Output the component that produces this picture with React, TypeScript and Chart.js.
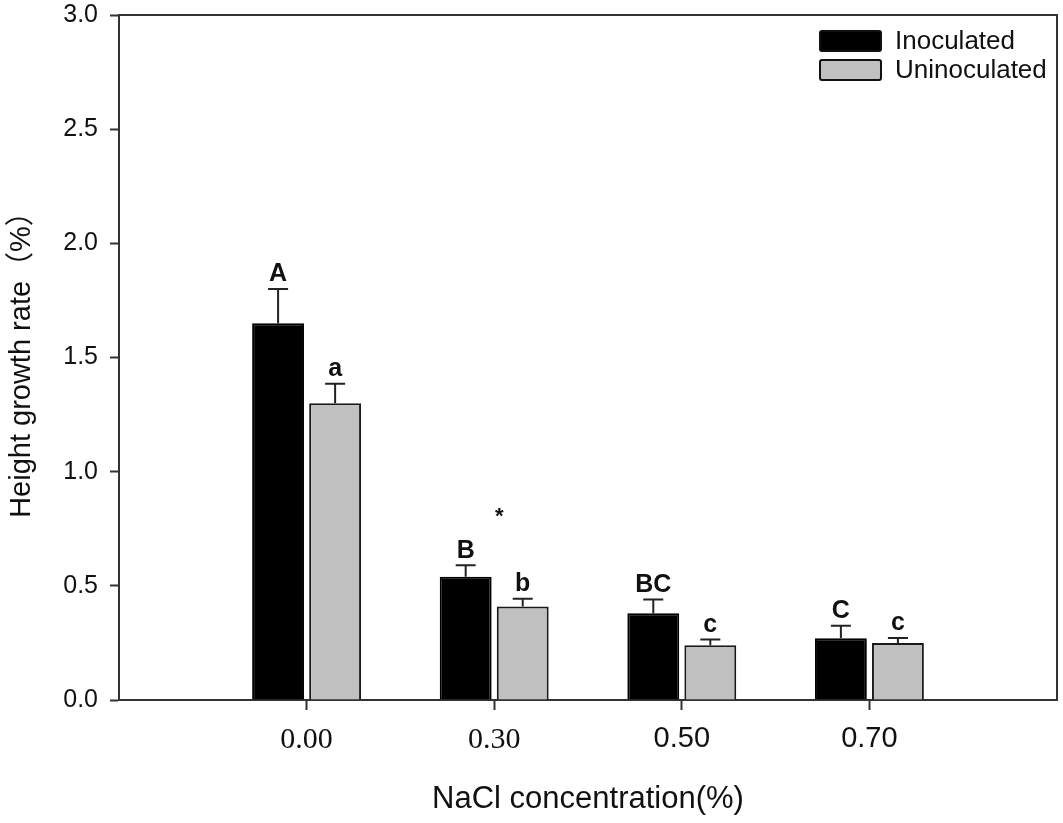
import { useEffect, useRef } from 'react'
import Chart from 'chart.js/auto'
import type { ChartConfiguration, Plugin } from 'chart.js'

// NaCl levels, padded with an empty slot each side so the groups sit inside the frame
const concentrations = ['0.00', '0.30', '0.50', '0.70']
const inoculated = [1.65, 0.54, 0.38, 0.27]
const uninoculated = [1.3, 0.41, 0.24, 0.25]
const inoculatedErr = [0.15, 0.05, 0.06, 0.055]
const uninoculatedErr = [0.085, 0.033, 0.025, 0.022]
const inoculatedLetters = ['A', 'B', 'BC', 'C']
const uninoculatedLetters = ['a', 'b', 'c', 'c']
const starConcentration = '0.30'
const starValue = 0.85
const yTicks = [0, 0.5, 1, 1.5, 2, 2.5, 3]

const SANS = '"Liberation Sans", Arial, sans-serif'
const SERIF = '"Liberation Serif", "Times New Roman", serif'
const TITLE = '"Liberation Sans", "Noto Sans CJK SC", sans-serif'
const INK = '#111'
const AXIS = '#333'

const pad = <T,>(arr: T[], empty: T) => [empty, ...arr, empty]

const labels = pad(concentrations, '')
const errors = [pad(inoculatedErr, 0), pad(uninoculatedErr, 0)]
const letters = [pad(inoculatedLetters, ''), pad(uninoculatedLetters, '')]

const errorBars: Plugin<'bar'> = {
  id: 'errorBars',
  afterDatasetsDraw(chart) {
    const { ctx } = chart
    const y = chart.scales.y
    ctx.save()
    chart.data.datasets.forEach((ds, di) => {
      const meta = chart.getDatasetMeta(di)
      meta.data.forEach((bar: any, i) => {
        const v = ds.data[i] as number | null
        if (v == null) return
        const top = y.getPixelForValue(v + errors[di][i])
        ctx.strokeStyle = '#222'
        ctx.lineWidth = 2
        ctx.beginPath()
        ctx.moveTo(bar.x, bar.y)
        ctx.lineTo(bar.x, top)
        ctx.moveTo(bar.x - 10, top)
        ctx.lineTo(bar.x + 10, top)
        ctx.stroke()
        ctx.fillStyle = INK
        ctx.font = `bold 25px ${SANS}`
        ctx.textAlign = 'center'
        ctx.textBaseline = 'bottom'
        ctx.fillText(letters[di][i], bar.x, top - 2)
      })
    })
    // significance mark
    const x = chart.scales.x
    ctx.font = `bold 22px ${SANS}`
    ctx.textAlign = 'center'
    ctx.textBaseline = 'top'
    ctx.fillText('*', x.getPixelForValue(labels.indexOf(starConcentration)) + 5, y.getPixelForValue(starValue))
    ctx.restore()
  },
}

const frameAndLegend: Plugin<'bar'> = {
  id: 'frameAndLegend',
  afterDraw(chart) {
    const { ctx, chartArea: a } = chart
    ctx.save()
    ctx.strokeStyle = AXIS
    ctx.lineWidth = 2
    ctx.beginPath()
    ctx.moveTo(a.left, a.top)
    ctx.lineTo(a.right, a.top)
    ctx.lineTo(a.right, a.bottom)
    ctx.stroke()

    const bx = a.right - 237
    chart.data.datasets.forEach((ds, i) => {
      const by = a.top + 16 + i * 29
      ctx.fillStyle = ds.backgroundColor as string
      ctx.strokeStyle = INK
      ctx.lineWidth = 2
      ctx.beginPath()
      ctx.roundRect(bx, by, 61, 20, 2)
      ctx.fill()
      ctx.stroke()
      ctx.fillStyle = INK
      ctx.font = `26px ${SANS}`
      ctx.textAlign = 'left'
      ctx.textBaseline = 'middle'
      ctx.fillText(ds.label as string, bx + 75, by + 11)
    })
    ctx.restore()
  },
}

export default function App() {
  const canvasRef = useRef<HTMLCanvasElement>(null)

  useEffect(() => {
    if (!canvasRef.current) return

    const config: ChartConfiguration<'bar'> = {
      type: 'bar',
      data: {
        labels,
        datasets: [
          {
            label: 'Inoculated',
            data: pad<number | null>(inoculated, null),
            backgroundColor: '#000000',
            borderColor: '#000000',
            borderWidth: 2,
          },
          {
            label: 'Uninoculated',
            data: pad<number | null>(uninoculated, null),
            backgroundColor: '#c0c0c0',
            borderColor: '#1a1a1a',
            borderWidth: 2,
          },
        ],
      },
      options: {
        responsive: true,
        maintainAspectRatio: false,
        animation: false,
        categoryPercentage: 0.608,
        barPercentage: 0.91,
        layout: { padding: { top: 15, right: 6, left: 0, bottom: 0 } },
        plugins: {
          legend: { display: false },
          tooltip: { enabled: false },
        },
        scales: {
          x: {
            type: 'category',
            offset: false,
            afterFit: (scale: any) => {
              scale.height = 123
              scale.paddingLeft = 0
              scale.paddingRight = 0
            },
            border: { display: true, color: AXIS, width: 2 },
            grid: {
              display: true,
              offset: false,
              drawOnChartArea: false,
              drawTicks: true,
              tickLength: 10,
              tickWidth: 2,
              tickColor: (c: any) => (c.index === 0 || c.index === labels.length - 1 ? 'rgba(0,0,0,0)' : AXIS),
            },
            ticks: {
              color: INK,
              padding: 12,
              autoSkip: false,
              maxRotation: 0,
              font: (c: any) =>
                c.index <= 2 ? { family: SERIF, size: 30 } : { family: SANS, size: 29 },
            },
            title: {
              display: true,
              text: 'NaCl concentration(%)',
              color: INK,
              font: { family: SANS, size: 31 },
              padding: { top: 0, bottom: 5 },
            },
          },
          y: {
            type: 'linear',
            min: yTicks[0],
            max: yTicks[yTicks.length - 1],
            afterFit: (scale: any) => {
              scale.width = 119
              scale.paddingTop = 0
              scale.paddingBottom = 0
            },
            afterBuildTicks: (scale: any) => {
              scale.ticks = yTicks.map((value) => ({ value }))
            },
            border: { display: true, color: AXIS, width: 2 },
            grid: {
              display: true,
              drawOnChartArea: false,
              drawTicks: true,
              tickLength: 9,
              tickWidth: 2,
              tickColor: AXIS,
            },
            ticks: {
              color: INK,
              padding: 12,
              font: { family: SANS, size: 25 },
              callback: (v: any) => Number(v).toFixed(1),
            },
            title: {
              display: true,
              text: 'Height growth rate（%）',
              color: INK,
              font: { family: TITLE, size: 29 },
              padding: { top: 5, bottom: 0 },
            },
          },
        },
      },
      plugins: [errorBars, frameAndLegend],
    }

    const chart = new Chart(canvasRef.current, config)
    return () => chart.destroy()
  }, [])

  return (
    <div style={{ position: 'fixed', left: 0, top: 0, width: '1063px', height: '823px', background: '#fff' }}>
      <canvas ref={canvasRef} />
    </div>
  )
}
